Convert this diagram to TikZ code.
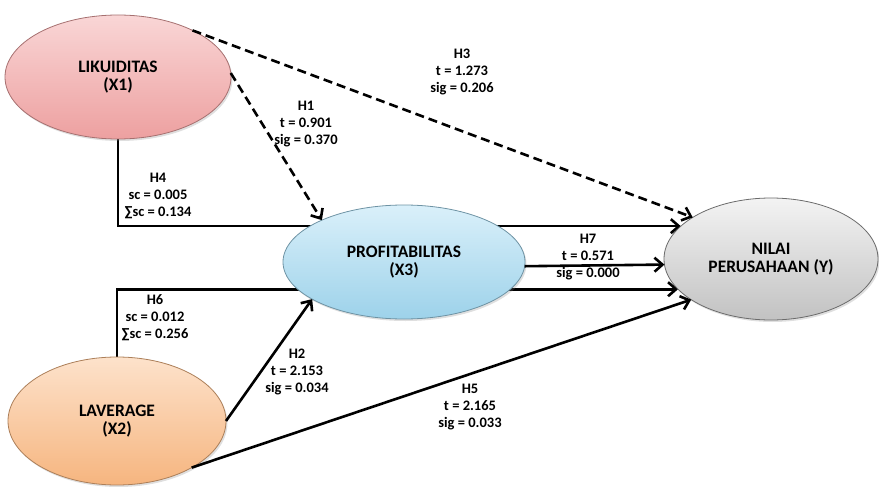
\documentclass[tikz,border=0pt]{standalone}
\usepackage{fontspec}
\setmainfont{Carlito}
\usetikzlibrary{shapes.geometric,arrows.meta,backgrounds,shadows}
\definecolor{likTop}{HTML}{F9D6D6}
\definecolor{likBot}{HTML}{EDA0A0}
\definecolor{levTop}{HTML}{FDE2CB}
\definecolor{levBot}{HTML}{F6B57F}
\definecolor{profTop}{HTML}{DAF0FA}
\definecolor{profBot}{HTML}{9DD2EA}
\definecolor{nilTop}{HTML}{F3F3F3}
\definecolor{nilBot}{HTML}{C2C2C2}

\begin{document}
\begin{tikzpicture}[x=1pt,y=-1pt,
    var/.style={ellipse,inner sep=0pt,outer sep=0pt,align=center,
      font=\bfseries\fontsize{17.5}{18.5}\selectfont,line width=0.8pt,
      drop shadow={opacity=0.25,shadow xshift=1.5pt,shadow yshift=-2pt}},
    hyp/.style={align=center,font=\bfseries\fontsize{14.5}{17}\selectfont,inner sep=0pt},
    link/.style={line width=2.6pt,-{Straight Barb[length=8pt,width=14pt]}},
    weak/.style={link,dash pattern=on 9pt off 5pt}]
    \useasboundingbox (0,0) rectangle (879,487);

    \node[var,minimum width=226pt,minimum height=124pt,draw=likBot!70!black,
      top color=likTop,bottom color=likBot] (lik) at (118,77) {LIKUIDITAS\\(X1)};
    \node[var,minimum width=218pt,minimum height=128pt,draw=levBot!70!black,
      top color=levTop,bottom color=levBot] (lev) at (117,421) {LAVERAGE\\(X2)};
    \node[var,minimum width=242pt,minimum height=114pt,draw=profBot!70!black,
      top color=profTop,bottom color=profBot] (prof) at (404,262) {PROFITABILITAS\\(X3)};
    \node[var,minimum width=214pt,minimum height=122pt,draw=nilBot!55!black,
      top color=nilTop,bottom color=nilBot] (nilai) at (771,259) {NILAI\\PERUSAHAAN (Y)};

    \begin{scope}[on background layer]
        \draw[link] (lik.south) |- (nilai.160.6);
        \draw[link] (lev.north) |- (nilai.198.6);
    \end{scope}
    \draw[weak] (lik.32) -- (nilai.152);
    \draw[weak] (lik.2) -- (prof.153);
    \draw[link] (lev.east) -- (prof.202);
    \draw[link] (lev.-32) -- (nilai.207.7);
    \draw[link] (prof.-2) -- (nilai.183);

    \node[hyp] (h1) at (306,124) {H1\\t = 0.901\\sig = 0.370};
    \node[hyp] (h2) at (297,372) {H2\\t = 2.153\\sig = 0.034};
    \node[hyp] (h3) at (462,72) {H3\\t = 1.273\\sig = 0.206};
    \node[hyp] (h4) at (158,196) {H4\\sc = 0.005\\∑sc = 0.134};
    \node[hyp] (h5) at (470,407) {H5\\t = 2.165\\sig = 0.033};
    \node[hyp] (h6) at (155,318) {H6\\sc = 0.012\\∑sc = 0.256};
    \node[hyp] (h7) at (588,257) {H7\\t = 0.571\\sig = 0.000};
\end{tikzpicture}
\end{document}
